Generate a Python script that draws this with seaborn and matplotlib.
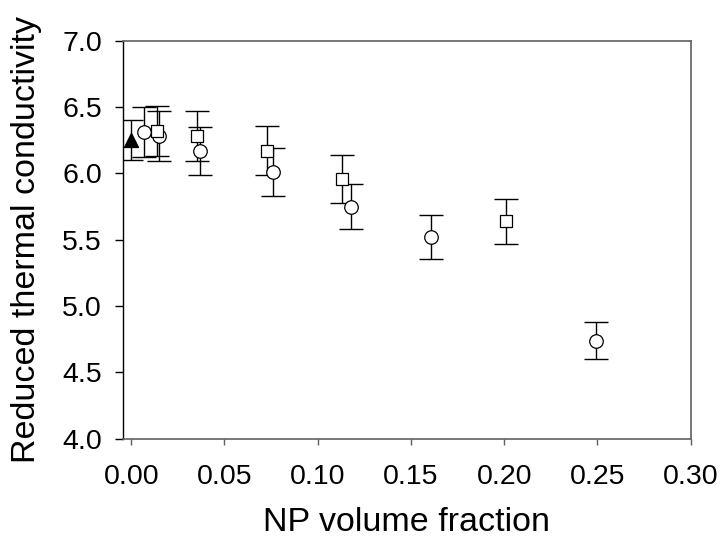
import seaborn as sns
import numpy as np
import matplotlib.pyplot as plt
import pandas as pd

# triangle (pure fluid)
tri_x = [0.0]
tri_y = [6.25]
tri_err = [0.15]

# open circles
circ_x = [0.007, 0.015, 0.037, 0.076, 0.118, 0.161, 0.249]
circ_y = [6.31, 6.28, 6.17, 6.01, 5.75, 5.52, 4.74]
circ_err = [0.19, 0.19, 0.18, 0.18, 0.17, 0.165, 0.14]

# open squares
sq_x = [0.014, 0.035, 0.073, 0.113, 0.201]
sq_y = [6.32, 6.28, 6.17, 5.96, 5.64]
sq_err = [0.19, 0.19, 0.185, 0.18, 0.17]

x_ticks = [0.00, 0.05, 0.10, 0.15, 0.20, 0.25, 0.30]
y_ticks = [4.0, 4.5, 5.0, 5.5, 6.0, 6.5, 7.0]

df = pd.concat([
    pd.DataFrame({'x': tri_x, 'y': tri_y, 'err': tri_err, 'set': 'tri'}),
    pd.DataFrame({'x': circ_x, 'y': circ_y, 'err': circ_err, 'set': 'circ'}),
    pd.DataFrame({'x': sq_x, 'y': sq_y, 'err': sq_err, 'set': 'sq'}),
], ignore_index=True)

sns.set_style("ticks")
plt.rcParams['font.family'] = ['Liberation Sans', 'DejaVu Sans']

fig = plt.figure(figsize=(7.25, 5.45), dpi=100)
ax = fig.add_axes([0.1692, 0.195, 0.7835, 0.7303])

# error bars first, markers on top
ax.errorbar(df['x'], df['y'], yerr=df['err'], fmt='none', ecolor='black',
            elinewidth=1.0, capsize=8.5, capthick=1.0, zorder=2)

sns.scatterplot(data=df[df['set'] == 'circ'], x='x', y='y', marker='o', s=95,
                facecolor='white', edgecolor='black', linewidth=0.9, ax=ax, zorder=3)
sns.scatterplot(data=df[df['set'] == 'sq'], x='x', y='y', marker='s', s=80,
                facecolor='white', edgecolor='black', linewidth=0.9, ax=ax, zorder=3)
sns.scatterplot(data=df[df['set'] == 'tri'], x='x', y='y', marker='^', s=100,
                color='black', edgecolor='black', linewidth=1.0, ax=ax, zorder=3)

ax.set_xlim(-0.0046, 0.30)
ax.set_ylim(4.0, 7.0)
ax.set_xticks(x_ticks)
ax.set_xticklabels(['%.2f' % t for t in x_ticks])
ax.set_yticks(y_ticks)
ax.set_yticklabels(['%.1f' % t for t in y_ticks])
ax.tick_params(axis='both', labelsize=20.5, direction='out', labelcolor='black')
ax.tick_params(axis='y', length=6, width=1.0, color='black', pad=9)
ax.tick_params(axis='x', length=4, width=1.0, color='#606060', pad=14)

for side in ['top', 'right', 'bottom']:
    ax.spines[side].set_color('#606060')
    ax.spines[side].set_linewidth(1.2)
ax.spines['left'].set_color('black')
ax.spines['left'].set_linewidth(1.0)

ax.set_xlabel('NP volume fraction', fontsize=24.5, color='black')
ax.set_ylabel('Reduced thermal conductivity', fontsize=24.5, color='black')
ax.xaxis.set_label_coords(0.5, -0.172)
ax.yaxis.set_label_coords(-0.142, 0.5)

fig.savefig('out.png', dpi=100)
